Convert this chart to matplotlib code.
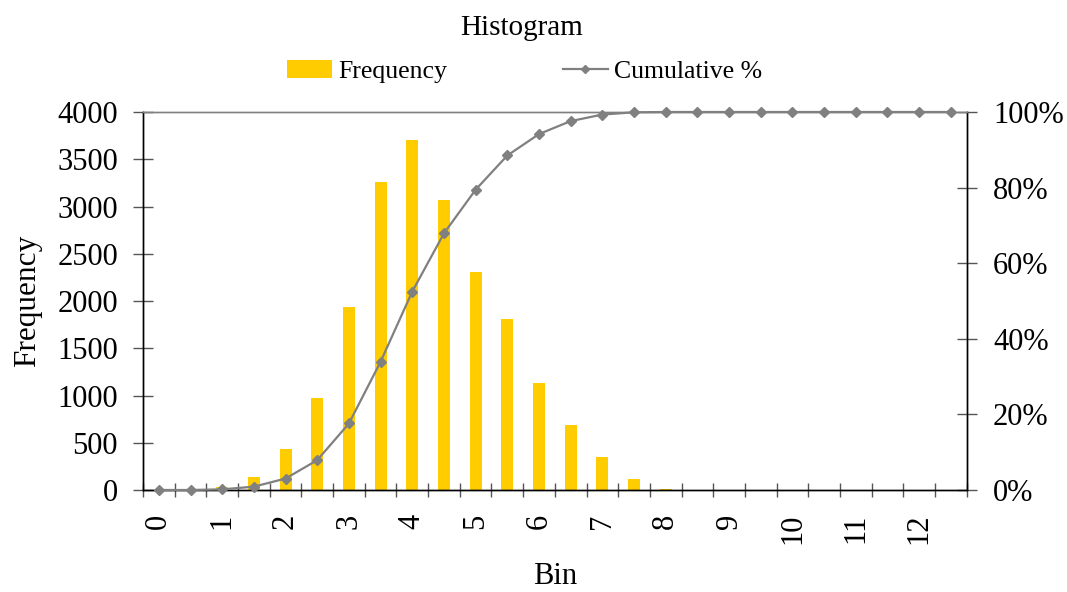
import numpy as np
import matplotlib
matplotlib.use("Agg")
import matplotlib.pyplot as plt
from matplotlib.ticker import FixedLocator, FuncFormatter
from matplotlib.lines import Line2D
from matplotlib.patches import Patch

plt.rcParams['font.family'] = ['Liberation Serif', 'DejaVu Serif']

# Bin upper edges and the count falling in each bin
bins = [0, 0.5, 1, 1.5, 2, 2.5, 3, 3.5, 4, 4.5, 5, 5.5, 6, 6.5, 7, 7.5,
        8, 8.5, 9, 9.5, 10, 10.5, 11, 11.5, 12, 12.5]
frequency = [0, 0, 35, 140, 430, 970, 1935, 3260, 3705, 3070, 2305, 1805,
             1130, 685, 345, 120, 15, 0, 0, 0, 0, 0, 0, 0, 0, 0]
tick_labels = ["0", "1", "2", "3", "4", "5", "6", "7", "8", "9", "10", "11", "12"]

freq = np.array(frequency, dtype=float)
cumulative = np.cumsum(freq) / freq.sum()
pos = np.arange(len(bins))

bar_color = "#FFCC00"
line_color = "#808080"
tick_color = "#555555"

fig = plt.figure(figsize=(10.67, 5.92), dpi=100)
ax = fig.add_axes([0.134, 0.1723, 0.772, 0.6385])
ax2 = ax.twinx()

ax.bar(pos, freq, width=0.38, color=bar_color, zorder=2)
ax2.plot(pos, cumulative, color=line_color, lw=1.6, marker="D",
         markersize=5.5, markeredgecolor=line_color, clip_on=False, zorder=3)

ax.set_xlim(-0.5, len(bins) - 0.5)
ax.set_ylim(0, 4000)
ax2.set_ylim(0, 1)

# Left axis
ax.set_yticks(np.arange(0, 4001, 500))
ax.tick_params(axis="y", direction="inout", length=14, width=1.0,
               color=tick_color, labelsize=22, pad=11)
# Right axis
ax2.set_yticks(np.linspace(0, 1, 6))
ax2.yaxis.set_major_formatter(FuncFormatter(lambda v, p: f"{v*100:.0f}%"))
ax2.tick_params(axis="y", direction="inout", length=14, width=1.0,
                color=tick_color, labelsize=22, pad=12)

# Category axis: labels at every other bin, tick marks on bin boundaries
label_pos = [i for i, b in enumerate(bins) if float(b).is_integer()]
ax.xaxis.set_major_locator(FixedLocator(label_pos))
ax.set_xticklabels(tick_labels, rotation=90)
ax.tick_params(axis="x", which="major", length=0, labelsize=22, pad=17)
ax.xaxis.set_minor_locator(FixedLocator(np.arange(-0.5, len(bins), 1.0)))
ax.tick_params(axis="x", which="minor", direction="inout", length=10,
               width=1.0, color=tick_color)

for a in (ax, ax2):
    a.spines["left"].set_color("black")
    a.spines["right"].set_color("black")
    a.spines["bottom"].set_color("black")
    a.spines["top"].set_color("#808080")
    for s in a.spines.values():
        s.set_linewidth(1.0)

ax.set_ylabel("Frequency", fontsize=22.5, labelpad=11)
ax.set_xlabel("Bin", fontsize=22, labelpad=13)
fig.text(0.489, 0.952, "Histogram", ha="center", va="center", fontsize=21)

handles = [Patch(facecolor=bar_color, edgecolor="none"),
           Line2D([0], [0], color=line_color, lw=1.6, marker="D",
                  markersize=4, markeredgecolor=line_color)]
fig.legend(handles, ["Frequency", "Cumulative %"], loc="center",
           bbox_to_anchor=(0.4915, 0.88), ncol=2, frameon=False, fontsize=18.5,
           handlelength=1.75, handleheight=0.7, handletextpad=0.25,
           columnspacing=4.5)

fig.savefig("out.png", dpi=100)
